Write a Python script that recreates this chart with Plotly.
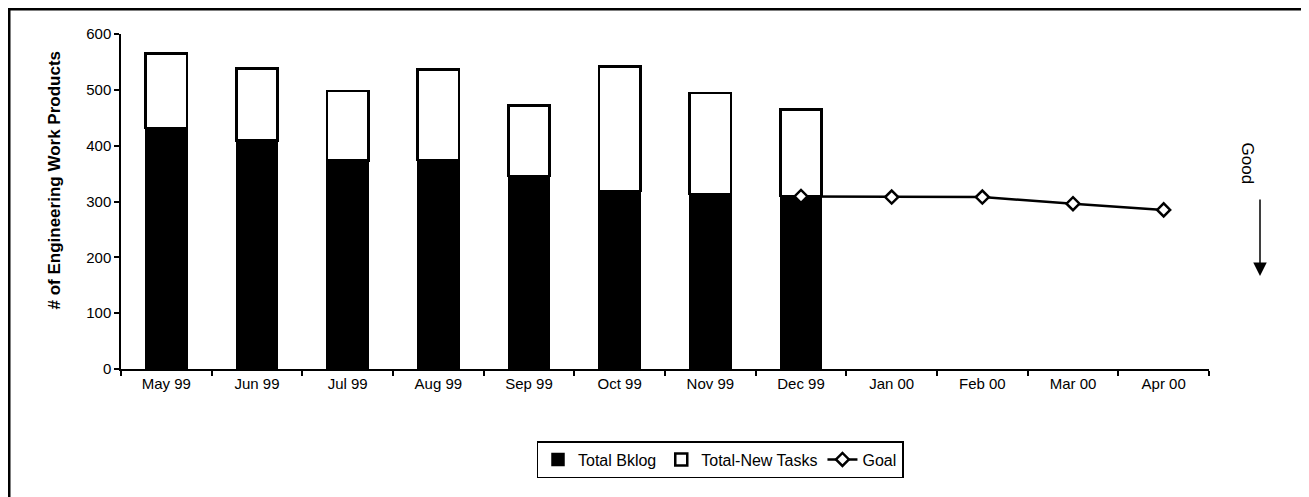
import plotly.graph_objects as go

months = ["May 99", "Jun 99", "Jul 99", "Aug 99", "Sep 99", "Oct 99", "Nov 99", "Dec 99",
          "Jan 00", "Feb 00", "Mar 00", "Apr 00"]
bar_months = months[:8]
total_bklog = [432, 409, 373, 374, 346, 319, 313, 310]
total_new_tasks = [133, 129, 125, 162, 126, 223, 181, 155]
goal_months = ["Dec 99", "Jan 00", "Feb 00", "Mar 00", "Apr 00"]
goal_values = [309, 308, 308, 296, 285]
y_ticks = [0, 100, 200, 300, 400, 500, 600]

FONT = "Liberation Sans, Arial, sans-serif"

# page body has an 8px margin; figure is sized to fit the window
W, H = 1301, 489
L, T = 113, 26
PW, PH = 1088, 335

def px(xs):
    return (xs - 8 - L) / PW

def py(ys):
    return (T + PH - (ys - 8)) / PH

fig = go.Figure()
fig.add_trace(go.Bar(x=bar_months, y=total_bklog, name="Total Bklog",
                     marker=dict(color="black", line=dict(color="black", width=1.5))))
fig.add_trace(go.Bar(x=bar_months, y=total_new_tasks, name="Total-New Tasks",
                     marker=dict(color="white", line=dict(color="black", width=2.5))))
fig.add_trace(go.Scatter(x=goal_months, y=goal_values, name="Goal", mode="lines+markers",
                         line=dict(color="black", width=2.5),
                         marker=dict(symbol="diamond", size=10, color="white",
                                     line=dict(color="black", width=2.5))))

fig.update_layout(
    width=W, height=H,
    margin=dict(l=L, r=W - L - PW, t=T, b=H - T - PH),
    paper_bgcolor="white", plot_bgcolor="white",
    barmode="stack", bargap=0.545,
    font=dict(family=FONT, size=15, color="black"),
    showlegend=True,
    legend=dict(orientation="h", x=px(720), xanchor="center", y=py(441), yanchor="top",
                bordercolor="black", borderwidth=1.5, font=dict(size=16),
                traceorder="normal", itemwidth=30, tracegroupgap=0),
    xaxis=dict(type="category", categoryorder="array", categoryarray=months,
               range=[-0.5, 11.5], showline=True, linecolor="black", linewidth=1.5,
               ticks="outside", tickson="boundaries", ticklen=5, tickcolor="black",
               tickwidth=1.5, showgrid=False, tickfont=dict(size=15)),
    yaxis=dict(range=[0, 600], tickvals=y_ticks, showline=True, linecolor="black",
               linewidth=1.5, ticks="outside", ticklen=5, tickcolor="black", tickwidth=1.5,
               showgrid=False, zeroline=False, tickfont=dict(size=15)),
)

# y axis title (positioned as in the reference)
fig.add_annotation(text="<b># of Engineering Work Products</b>", xref="paper", yref="paper",
                   x=px(43), y=py(180), textangle=-90, showarrow=False,
                   font=dict(size=17, family=FONT))

# "Good" indicator with arrow
fig.add_annotation(text="Good", xref="paper", yref="paper", x=px(1259), y=py(163),
                   textangle=90, showarrow=False, font=dict(size=17, family=FONT))
fig.add_annotation(text="", xref="paper", yref="paper", x=px(1260), y=py(276),
                   ax=0, ay=-78, showarrow=True, arrowhead=2,
                   arrowsize=1.8, arrowwidth=1.5, arrowcolor="black")

# scanned frame edges (top and left)
fig.add_shape(type="line", xref="paper", yref="paper", x0=px(8), x1=px(1309),
              y0=py(9), y1=py(9), line=dict(color="black", width=3))
fig.add_shape(type="line", xref="paper", yref="paper", x0=px(9), x1=px(9),
              y0=py(9), y1=py(497), line=dict(color="black", width=3))

fig.write_html("out.html")
